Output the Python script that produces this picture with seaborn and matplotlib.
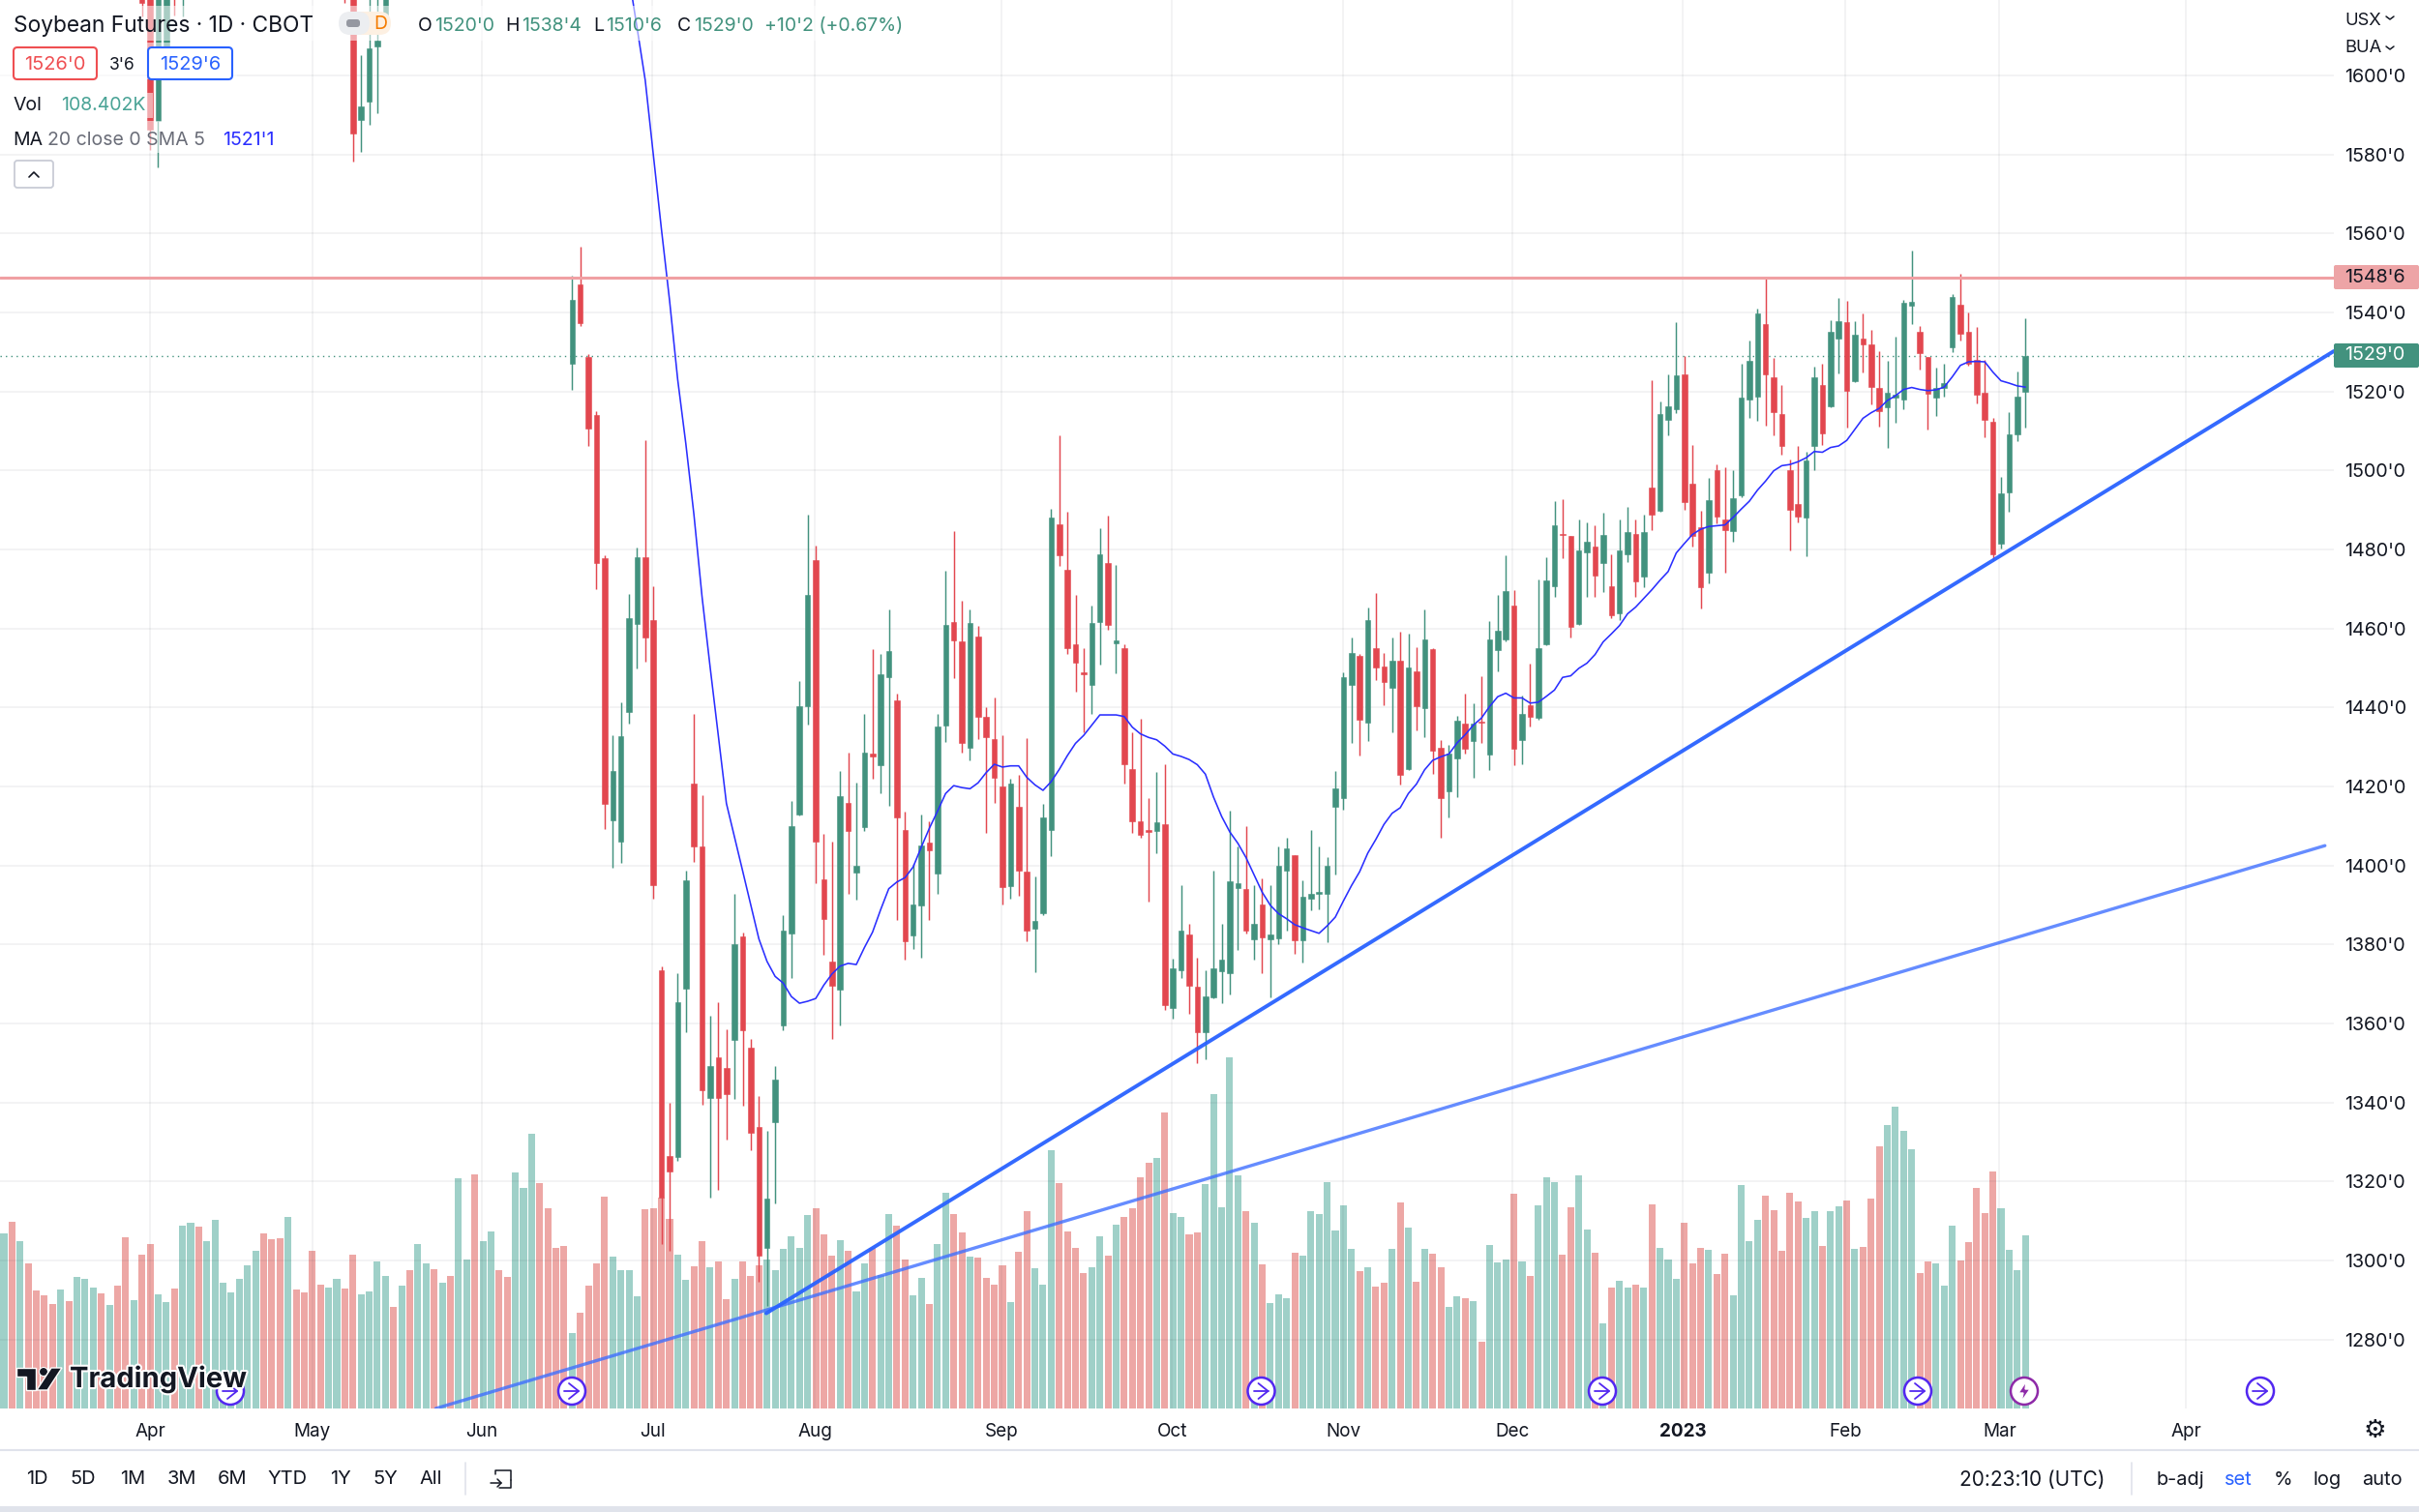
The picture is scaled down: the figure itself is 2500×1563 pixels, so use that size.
#soybean futures daily chart
import matplotlib.pyplot as plt
import matplotlib.patheffects as pe
from matplotlib.patches import Circle, FancyBboxPatch, Polygon, Rectangle
import numpy as np
import pandas as pd
import seaborn as sns

# one letter per session, g = up, r = down
sides = list(
    "grgrrrrgrg" "ggrgrrgrrg" "grggrggggg" "ggrrrgrrrr" "ggrrggggrg" "rggrgrggrg" "grrgggrrrr"
    "grrrrggggr" "rrrggrrgrr" "grrrgggggg" "rrrgrggrgg" "rrggrggrrg" "rrrrgrrggg" "rrrrggrgrr"
    "rrgrggrrgg" "gggrgrgggr" "gggggggrgr" "rgrgrgrrgg" "rgrgggrgrg" "ggrrggrgrg" "grgrgggrrr"
    "grrggggrrr" "rrggrggrgr" "rrggggrrgg" "grrrrrgggg"
)

# volume, thousands of contracts
volume = [
    109.6, 116.7, 104.6, 90.9, 73.9, 70.7, 65.2, 74.3, 67.2, 82.4, 81.0, 75.7, 72.3, 64.8, 76.9, 107.0, 67.8, 96.3,
    103.0, 71.5, 66.6, 75.1, 114.7, 116.3, 113.7, 104.8, 117.9, 78.7, 72.5, 81.0, 89.8, 98.5, 109.8, 106.2, 106.6,
    119.7, 74.5, 72.9, 98.9, 77.7, 75.9, 81.4, 75.1, 96.3, 71.5, 73.3, 91.9, 83.2, 63.4, 76.9, 86.4, 103.0, 90.9,
    87.2, 78.7, 82.8, 144.0, 93.5, 146.6, 104.8, 111.0, 86.8, 82.4, 147.6, 138.3, 171.8, 140.9, 125.2, 100.5, 101.6,
    47.4, 60.2, 76.9, 90.9, 132.4, 95.3, 86.4, 86.4, 70.1, 124.8, 125.2, 131.8, 118.7, 96.5, 80.4, 89.0, 104.8, 88.4,
    92.3, 68.2, 81.4, 92.1, 83.0, 89.6, 93.5, 86.8, 99.9, 107.8, 100.3, 121.1, 125.2, 109.0, 95.9, 105.2, 98.9, 73.3,
    91.1, 100.5, 83.4, 121.5, 114.5, 93.1, 70.9, 81.8, 65.2, 103.0, 134.9, 121.9, 110.2, 95.3, 94.5, 81.8, 77.3, 89.6,
    66.6,
    98.1, 123.4, 87.6, 77.3, 161.7, 141.3, 110.6, 100.7, 84.8, 88.4, 107.6, 95.5, 115.1, 120.1, 125.4, 144.6, 153.8,
    157.1, 185.3, 122.4, 119.7, 109.0, 110.2, 140.5, 196.9, 126.0, 219.9, 145.8, 123.8, 116.5, 90.5, 66.2, 71.5, 68.8,
    97.5, 95.9, 123.4, 121.5, 141.9, 111.2, 127.4, 99.9, 86.2, 88.4, 76.3, 78.7, 99.9, 128.8, 113.3, 79.1, 99.7, 96.7,
    88.2, 63.4, 70.3, 69.0, 67.4, 42.0, 102.6, 91.5, 93.1, 134.3, 91.9, 82.8, 127.0, 145.0, 141.7, 96.3, 126.0, 146.0,
    112.1, 97.5, 53.5, 75.5, 80.0, 75.5, 77.3, 75.5, 127.6, 100.5, 93.3, 81.4, 116.3, 90.9, 100.7, 99.5, 84.2, 96.9,
    70.7, 139.9, 104.8, 118.3, 133.3, 124.2, 98.9, 135.1, 129.6, 119.3, 123.4, 101.8, 123.8, 126.4, 130.2, 99.9, 101.4,
    131.4, 163.9, 177.5, 189.2, 173.8, 162.1, 85.0, 91.9, 90.9, 77.1, 114.3, 92.9, 104.4, 138.3, 122.6, 148.4, 125.2,
    99.3, 86.8, 108.4,
]

# candles that show on the chart, the rest are above the top edge
candle_idx = list(range(17, 23)) + list(range(42, 48)) + list(range(70, 250))

candle_high = [
    1640, 1640, 1640, 1640, 1640, 1640, 1640, 1640, 1605.1, 1640, 1640, 1640,
    1549.4, 1556.6, 1529.5, 1515.0, 1478.5, 1432.9, 1441.2, 1468.7, 1480.5, 1507.7, 1470.7, 1374.5, 1339.8, 1372.8,
    1398.7, 1438.4, 1417.8, 1362.0, 1365.4, 1358.5, 1392.9, 1383.1, 1356.1, 1341.7, 1332.9, 1349.1, 1387.4, 1416.3,
    1446.7, 1488.9, 1481.0, 1408.0, 1406.1, 1424.0, 1428.6, 1420.9, 1438.4, 1454.7, 1453.5, 1464.7, 1443.6, 1413.7,
    1400.3, 1412.8, 1411.1, 1438.4, 1474.7, 1484.6, 1466.9, 1464.7, 1460.6, 1440.0, 1442.4, 1432.9, 1421.9, 1423.0,
    1432.2, 1397.2, 1415.6, 1490.3, 1508.9, 1489.6, 1468.5, 1455.1, 1465.8, 1485.3, 1488.6, 1476.1, 1456.0, 1433.8,
    1437.1, 1417.1, 1423.7,
    1425.7, 1376.5, 1394.9, 1385.2, 1376.6, 1373.4, 1398.7, 1385.2, 1413.8, 1404.9, 1410.0, 1394.9, 1396.8, 1394.9,
    1404.9, 1407.1, 1402.7, 1396.3, 1409.0, 1404.9, 1402.0, 1424.0, 1449.0, 1457.7, 1453.5, 1465.4, 1469.0, 1453.9,
    1457.7, 1459.2, 1458.6, 1455.2, 1464.7, 1455.0, 1431.7, 1430.6, 1437.8, 1443.4, 1441.0, 1447.9, 1461.8, 1468.5,
    1478.5, 1469.8, 1443.0, 1451.1, 1472.5, 1478.1,
    1492.2, 1492.7, 1483.5, 1487.7, 1486.9, 1486.0, 1489.3, 1478.8, 1487.5, 1490.8, 1487.6, 1488.9, 1522.8, 1517.5,
    1524.3, 1537.5, 1528.9, 1506.4, 1489.9, 1498.2, 1501.6, 1500.7, 1500.0, 1527.0, 1533.0, 1540.9, 1548.6, 1528.4,
    1521.7, 1502.8, 1506.3, 1504.7, 1526.3, 1527.0, 1538.0, 1543.7, 1542.9, 1537.8, 1539.7, 1535.6, 1530.3, 1527.7,
    1533.8, 1543.2, 1555.6, 1536.5, 1528.8, 1526.0, 1527.0, 1544.6, 1549.8, 1539.9, 1536.2, 1528.0, 1513.2, 1498.3,
    1514.8, 1525.0, 1538.5,
]
candle_top = [
    1625, 1630, 1630, 1630, 1630, 1630, 1630, 1630, 1592.2, 1606.9, 1608.9, 1630,
    1543.2, 1547.2, 1528.8, 1514.0, 1477.8, 1424.0, 1432.6, 1462.5, 1478.1, 1478.1, 1462.1, 1373.5, 1326.4, 1365.4,
    1396.3, 1420.6, 1404.8, 1349.1, 1351.3, 1348.6, 1380.0, 1382.1, 1353.9, 1333.8, 1315.6, 1345.8, 1383.5, 1409.9,
    1440.3, 1468.5, 1477.4, 1396.5, 1375.6, 1417.6, 1415.7, 1399.9, 1428.6, 1428.3, 1448.4, 1454.2, 1441.9, 1409.0,
    1390.0, 1405.1, 1405.8, 1435.2, 1460.9, 1461.5, 1456.8, 1461.3, 1458.0, 1437.6, 1431.9, 1419.9, 1420.6, 1414.9,
    1398.4, 1386.0, 1412.1, 1488.1, 1486.4, 1474.8, 1456.0, 1448.9, 1461.3, 1478.8, 1476.6, 1457.0, 1455.1, 1424.3,
    1411.1, 1409.0, 1410.8,
    1410.4, 1374.0, 1383.4, 1382.6, 1369.3, 1366.8, 1374.0, 1376.1, 1396.0, 1395.6, 1393.9, 1385.2, 1390.0, 1382.6,
    1399.9, 1404.3, 1402.6, 1392.1, 1392.8, 1393.4, 1400.0, 1419.5, 1447.7, 1453.9, 1453.0, 1462.1, 1455.0, 1450.3,
    1451.9, 1451.9, 1450.0, 1449.1, 1457.2, 1454.7, 1429.9, 1428.2, 1436.6, 1435.8, 1435.9, 1436.5, 1457.2, 1459.4,
    1469.4, 1465.9, 1438.4, 1440.6, 1455.0, 1472.1,
    1486.1, 1483.9, 1483.4, 1479.8, 1482.0, 1480.8, 1483.7, 1470.8, 1479.7, 1484.5, 1483.8, 1484.5, 1495.6, 1514.3,
    1516.2, 1524.0, 1524.2, 1496.6, 1485.6, 1492.5, 1500.0, 1487.6, 1492.9, 1518.4, 1527.7, 1539.7, 1537.0, 1523.6,
    1514.3, 1500.0, 1491.5, 1502.4, 1523.6, 1521.7, 1535.2, 1537.9, 1537.5, 1534.3, 1533.5, 1531.8, 1521.0, 1519.6,
    1519.1, 1542.5, 1542.8, 1535.2, 1528.7, 1521.0, 1522.2, 1543.9, 1541.9, 1535.0, 1528.1, 1519.6, 1512.3, 1494.2,
    1509.2, 1518.7, 1529.0,
]
candle_bot = [
    1618.3, 1586.4, 1588.5, 1607.3, 1625, 1625, 1622, 1585.2, 1588.8, 1593.4, 1607.4, 1614.8,
    1527.1, 1537.4, 1510.6, 1476.6, 1415.6, 1411.5, 1406.0, 1438.9, 1461.1, 1457.8, 1395.1, 1315.8, 1322.5, 1326.2,
    1368.8, 1404.9, 1343.1, 1341.0, 1341.0, 1342.0, 1355.8, 1358.2, 1332.3, 1301.2, 1303.2, 1335.0, 1359.6, 1382.8,
    1412.8, 1440.3, 1406.0, 1386.4, 1369.5, 1368.5, 1408.7, 1398.2, 1409.7, 1427.6, 1425.4, 1447.7, 1412.1, 1380.7,
    1382.3, 1389.8, 1403.9, 1397.9, 1435.5, 1457.0, 1431.0, 1429.8, 1437.6, 1432.4, 1422.3, 1394.6, 1394.8, 1398.7,
    1383.5, 1384.0, 1387.9, 1408.9, 1478.6, 1454.9, 1451.3, 1448.4, 1445.8, 1461.6, 1460.9, 1456.3, 1425.5, 1411.1,
    1407.8, 1408.5, 1408.7,
    1364.6, 1363.8, 1373.4, 1369.5, 1357.8, 1357.8, 1366.7, 1373.1, 1372.7, 1394.2, 1383.4, 1381.3, 1381.8, 1381.3,
    1381.5, 1398.7, 1381.1, 1381.1, 1391.6, 1392.7, 1392.8, 1414.9, 1417.0, 1445.8, 1436.9, 1436.2, 1450.2, 1446.4,
    1444.9, 1422.9, 1424.3, 1440.4, 1439.8, 1429.1, 1417.0, 1418.7, 1427.0, 1429.5, 1431.4, 1436.2, 1428.1, 1454.6,
    1457.1, 1429.5, 1431.8, 1437.6, 1437.4, 1455.9,
    1470.8, 1483.7, 1460.4, 1461.1, 1479.3, 1473.3, 1476.6, 1463.3, 1463.8, 1478.8, 1471.9, 1473.2, 1488.8, 1489.9,
    1512.8, 1515.4, 1492.1, 1483.3, 1470.5, 1474.1, 1488.3, 1484.8, 1484.7, 1493.8, 1518.0, 1518.7, 1524.3, 1514.7,
    1506.2, 1490.0, 1488.4, 1488.0, 1506.1, 1509.3, 1516.2, 1533.4, 1520.1, 1522.6, 1531.8, 1521.1, 1515.0, 1516.0,
    1518.4, 1518.0, 1541.8, 1529.8, 1519.5, 1518.4, 1520.9, 1531.1, 1534.7, 1527.1, 1519.1, 1512.7, 1478.8, 1481.4,
    1494.5, 1509.2, 1520.0,
]
candle_low = [
    1615, 1581.1, 1576.8, 1607, 1615.2, 1615, 1618.3, 1578.1, 1580.7, 1587.6, 1590.4, 1612,
    1520.5, 1536.5, 1506.3, 1470.0, 1409.2, 1399.3, 1400.6, 1436.0, 1449.9, 1451.5, 1391.5, 1304.1, 1302.4, 1325.2,
    1357.8, 1400.8, 1339.3, 1315.8, 1317.8, 1330.5, 1340.8, 1339.1, 1327.8, 1294.6, 1288.5, 1314.4, 1358.2, 1371.6,
    1412.6, 1435.7, 1395.5, 1377.3, 1356.0, 1359.4, 1392.7, 1391.4, 1408.7, 1421.9, 1418.3, 1415.2, 1386.2, 1376.1,
    1378.8, 1376.6, 1386.2, 1392.9, 1431.2, 1447.4, 1428.5, 1426.6, 1432.1, 1408.2, 1415.9, 1390.0, 1391.5, 1392.2,
    1380.7, 1373.0, 1387.4, 1402.3, 1475.9, 1453.5, 1443.9, 1433.8, 1438.4, 1450.8, 1459.6, 1448.7, 1420.6, 1408.2,
    1407.0, 1390.8, 1403.0,
    1363.3, 1361.2, 1371.6, 1362.5, 1350.0, 1350.8, 1366.4, 1365.2, 1367.4, 1378.7, 1382.7, 1376.2, 1372.7, 1366.7,
    1380.0, 1383.6, 1377.6, 1375.5, 1388.6, 1388.8, 1380.6, 1397.7, 1414.2, 1431.0, 1427.9, 1431.6, 1447.0, 1440.6,
    1433.6, 1420.5, 1424.2, 1434.2, 1432.5, 1423.2, 1406.9, 1412.2, 1417.2, 1428.3, 1422.3, 1431.0, 1424.1, 1449.1,
    1456.6, 1425.3, 1425.6, 1435.2, 1437.0, 1455.8,
    1468.0, 1477.8, 1457.8, 1460.8, 1468.0, 1468.0, 1469.3, 1462.6, 1462.2, 1476.9, 1468.0, 1470.5, 1484.9, 1489.5,
    1508.9, 1514.4, 1490.0, 1480.7, 1465.1, 1471.4, 1486.7, 1474.1, 1482.0, 1493.3, 1513.4, 1512.5, 1511.4, 1508.9,
    1504.1, 1479.8, 1486.9, 1478.3, 1500.1, 1506.4, 1516.1, 1524.5, 1510.8, 1522.4, 1524.9, 1516.8, 1511.0, 1505.8,
    1512.1, 1515.6, 1537.1, 1525.5, 1510.3, 1513.7, 1518.8, 1530.0, 1533.0, 1526.4, 1517.0, 1508.3, 1477.4, 1480.3,
    1489.5, 1507.4, 1510.75,
]

# MA 20, sessions 77 to 249
ma_idx = list(range(77, 250))
ma_values = [
    1625, 1612, 1598.8, 1580, 1561, 1543, 1523, 1506.8, 1488.8, 1468, 1450.1, 1432.9, 1415.7, 1407.2, 1398.6, 1390.0,
    1381.4, 1375.7, 1371.9, 1370.2, 1366.8, 1365.1, 1365.6, 1366.3, 1369.7, 1372.5, 1374.5, 1375.2, 1374.9, 1379.2,
    1383.1, 1388.8, 1394.1, 1395.8, 1396.9, 1399.6, 1404.6, 1409.4, 1413.7, 1418.2, 1420.2, 1419.7, 1419.4, 1420.9,
    1423.5, 1425.6, 1424.9, 1425.2, 1425.2, 1422.3, 1420.4, 1419.0, 1421.2, 1424.3, 1427.8, 1430.9, 1432.9, 1435.5,
    1438.1, 1438.1, 1438.1, 1437.7, 1435.0, 1433.3, 1432.4, 1431.8,
    1430.2, 1428.2, 1427.6, 1426.8, 1425.5, 1423.1, 1417.3, 1412.4, 1408.5, 1405.6, 1402.0, 1397.6, 1393.2, 1389.9,
    1387.8, 1386.5, 1385.0, 1384.2, 1383.5, 1382.8, 1384.7, 1386.9, 1391.0, 1394.9, 1398.4, 1403.1, 1406.6, 1410.4,
    1413.2, 1414.6, 1418.2, 1420.6, 1424.2, 1426.6, 1427.5, 1428.2, 1431.0, 1433.1, 1435.5, 1437.3, 1440.2, 1442.7,
    1443.6, 1442.4, 1442.4, 1441.1, 1441.3, 1442.8, 1444.4, 1447.6, 1448.0, 1449.9, 1451.2, 1453.4, 1456.6, 1458.6,
    1460.7, 1463.7, 1465.4, 1467.6, 1469.8, 1472.2, 1474.4, 1479.1, 1481.5, 1483.8, 1485.1, 1485.8, 1486.0, 1486.2,
    1488.1, 1490.2, 1492.2, 1495.0, 1497.3, 1499.9, 1501.2, 1501.5, 1502.2, 1503.2, 1504.8, 1504.6, 1505.8, 1506.2,
    1507.6, 1510.4, 1513.2, 1514.6, 1515.7, 1517.7, 1518.9, 1520.5, 1521.0, 1520.5, 1520.2, 1520.4, 1521.1, 1523.7,
    1526.6, 1527.5, 1527.6, 1527.5, 1524.9, 1522.7, 1522.1, 1521.4, 1521.1,
]

# drawn trend lines, (session, price) at each end
steep_x = [93.9, 287.0]
steep_y = [1286.6, 1530.2]
shallow_x = [53.2, 285.9]
shallow_y = [1262.5, 1405.0]

resistance = 1548.75
last_close = 1529.0

price_ticks = [1280, 1300, 1320, 1340, 1360, 1380, 1400, 1420, 1440, 1460, 1480, 1500, 1520, 1540, 1560, 1580, 1600]
month_ticks = [18, 38, 58.9, 79.9, 99.9, 122.9, 143.9, 165, 185.8, 206.8, 226.8, 245.8, 268.8]
month_labels = ["Apr", "May", "Jun", "Jul", "Aug", "Sep", "Oct", "Nov", "Dec", "2023", "Feb", "Mar", "Apr"]

GREEN = "#42927e"
RED = "#e2474f"
VOL_GREEN = "#9fd0c8"
VOL_RED = "#eda7a5"
BLUE = "#2962ff"
INK = "#131722"
RING = "#5227f0"

sns.set_theme(style="white")
plt.rcParams["font.family"] = ["Inter", "DejaVu Sans"]

W, H = 2500, 1563
fig = plt.figure(figsize=(25, 15.63), dpi=100, facecolor="white")
rect = [0, (H - 1456) / H, 2412 / W, 1456 / H]
xlim = (-0.477, 287.0)

# volume sits on its own axes behind the prices
vol_ax = fig.add_axes(rect, zorder=1)
vol_df = pd.DataFrame({"i": range(len(volume)), "vol": volume, "side": sides})
sns.barplot(data=vol_df, x="i", y="vol", hue="side", palette={"g": VOL_GREEN, "r": VOL_RED}, native_scale=True,
            dodge=False, width=0.84, saturation=1, legend=False, errorbar=None, linewidth=0, ax=vol_ax)
vol_ax.set_xlim(*xlim)
vol_ax.set_ylim(0, 881.8)
vol_ax.axis("off")

ax = fig.add_axes(rect, zorder=2)
ax.patch.set_visible(False)

candles = pd.DataFrame({"i": candle_idx, "high": candle_high, "top": candle_top, "bot": candle_bot, "low": candle_low})
candles["color"] = [GREEN if sides[i] == "g" else RED for i in candle_idx]
ax.vlines(candles["i"], candles["low"], candles["high"], colors=candles["color"], lw=1.05, zorder=3)
ax.bar(candles["i"], candles["top"] - candles["bot"], bottom=candles["bot"], width=0.66, color=candles["color"],
       edgecolor=candles["color"], linewidth=0.4, zorder=4)

sns.lineplot(x=ma_idx, y=ma_values, color="#2a2eff", lw=1.15, sort=False, ax=ax, zorder=5)
sns.lineplot(x=shallow_x, y=shallow_y, color="#3f6fff", alpha=0.8, lw=2.4, sort=False, ax=ax, zorder=5)
sns.lineplot(x=steep_x, y=steep_y, color=BLUE, alpha=0.95, lw=2.8, sort=False, ax=ax, zorder=5)

ax.axhline(resistance, color="#f0a0a3", lw=2.2, zorder=6)
ax.axhline(last_close, color=GREEN, lw=1.0, ls=(0, (1, 3)), zorder=2)

ax.set_xlim(*xlim)
ax.set_ylim(1262.5, 1619.1)
ax.set_xlabel("")
ax.set_ylabel("")
for s in ax.spines.values():
    s.set_visible(False)
ax.yaxis.tick_right()
ax.set_yticks(price_ticks)
ax.set_yticklabels([f"{p}'0" for p in price_ticks])
ax.set_xticks(month_ticks)
ax.set_xticklabels(month_labels)
ax.tick_params(axis="y", length=0, pad=8, labelsize=14.2, labelcolor=INK)
ax.tick_params(axis="x", length=0, pad=11, labelsize=13.6, labelcolor=INK)
for lab in ax.get_xticklabels():
    if lab.get_text() == "2023":
        lab.set_fontweight("bold")
ax.grid(True, color="#2a2e39", alpha=0.07, lw=1.1)
ax.set_axisbelow(True)

# everything else on the screenshot, placed in pixels
ui = fig.add_axes([0, 0, 1, 1], zorder=3)
ui.set_xlim(0, W)
ui.set_ylim(H, 0)
ui.axis("off")
ui.patch.set_visible(False)

# faded strip behind the legend rows
for x0, y0, w, h in [(0, 6, 935, 36), (0, 44, 245, 38), (0, 96, 158, 26), (0, 125, 295, 33)]:
    ui.add_patch(Rectangle((x0, y0), w, h, fc="white", ec="none", alpha=0.55))


def label(x, y, s, size=13.6, color=INK, ha="left", **kw):
    return ui.text(x, y, s, fontsize=size, color=color, ha=ha, va="center", **kw)


label(14, 26.5, "Soybean Futures · 1D · CBOT", size=16.4)
ui.add_patch(FancyBboxPatch((352, 12), 52, 24, boxstyle="round,pad=0,rounding_size=12", fc="#fdf0e2", ec="none"))
ui.add_patch(FancyBboxPatch((350, 12), 32, 24, boxstyle="round,pad=0,rounding_size=12", fc="#eceef1", ec="none"))
ui.add_patch(FancyBboxPatch((358, 20), 14, 8, boxstyle="round,pad=0,rounding_size=3", fc="#9598a1", ec="none"))
label(393, 25, "D", size=14, color="#f57c00", ha="center")

for x, s, c in [(432, "O", INK), (449, "1520'0", GREEN), (522, "H", INK), (539, "1538'4", GREEN), (613, "L", INK),
                (626, "1510'6", GREEN), (700, "C", INK), (717, "1529'0", GREEN), (790, "+10'2 (+0.67%)", GREEN)]:
    label(x, 27, s, size=14, color=c)

ui.add_patch(FancyBboxPatch((14, 49), 86, 33, boxstyle="round,pad=0,rounding_size=4", fc="white", ec="#ef4f52", lw=1.5))
label(57, 67, "1526'0", size=14.4, color="#ef4f52", ha="center")
label(126, 67, "3'6", size=12.5, ha="center")
ui.add_patch(FancyBboxPatch((153, 49), 87, 33, boxstyle="round,pad=0,rounding_size=4", fc="white", ec=BLUE, lw=1.5))
label(197, 67, "1529'6", size=14.4, color=BLUE, ha="center")

label(13, 109.5, "Vol", size=14)
label(63, 109.5, "108.402K", size=14, color="#4aa396")
label(13, 145.5, "MA", size=14)
label(49, 145.5, "20 close 0 SMA 5", size=14, color="#6a6d78")
label(230, 145.5, "1521'1", size=14, color="#2a2eff")
ui.add_patch(FancyBboxPatch((15, 166), 40, 28, boxstyle="round,pad=0,rounding_size=3", fc="white", ec="#c9ccd6", lw=1.3))
ui.plot([30, 35, 40], [183, 178, 183], color=INK, lw=1.2)

label(2423, 21, "USX", size=13.2)
label(2423, 50, "BUA", size=13.2)
for y in (17, 48):
    ui.plot([2466, 2470, 2474], [y, y + 3, y], color=INK, lw=1.1)

ui.add_patch(FancyBboxPatch((2412, 274), 88, 25, boxstyle="round,pad=0,rounding_size=2", fc="#eda4a6", ec="none"))
label(2423, 286.5, "1548'6", size=14.2)
ui.add_patch(FancyBboxPatch((2412, 355), 88, 25, boxstyle="round,pad=0,rounding_size=2", fc=GREEN, ec="none"))
label(2423, 367.5, "1529'0", size=14.2, color="white")

# event markers along the bottom
for x in [238, 591, 1303.5, 1656, 1982, 2336]:
    ui.add_patch(Circle((x, 1438), 14, fc="white", ec=RING, lw=1.8))
    ui.plot([x - 8, x + 7], [1438, 1438], color=RING, lw=1.3)
    ui.plot([x - 3, x + 7, x - 3], [1430, 1438, 1446], color=RING, lw=1.3)
ui.add_patch(Circle((2092, 1438), 14, fc="white", ec="#8e2aa8", lw=1.8))
ui.add_patch(Polygon([(2094, 1428), (2086, 1440), (2091, 1440), (2089, 1449), (2098, 1436), (2093, 1436)], fc="#8e2aa8"))

# TradingView mark
outline = [pe.withStroke(linewidth=3, foreground="white")]
logo = label(72, 1426, "TradingView", size=21, fontweight="bold", path_effects=outline)
ui.add_patch(Polygon([(17, 1414), (37, 1414), (37, 1437), (27, 1437), (27, 1423), (17, 1423)], fc=INK, ec="white", lw=1))
ui.add_patch(Circle((45, 1418), 4.5, fc=INK, ec="white", lw=0.8))
ui.add_patch(Polygon([(38, 1437), (49, 1437), (64, 1414), (53, 1414)], fc=INK, ec="white", lw=1))

label(2454, 1479, "⚙", size=19, ha="center", family="DejaVu Sans")

# footer
ui.plot([0, W], [1499, 1499], color="#e0e3eb", lw=1.5)
ui.add_patch(Rectangle((0, 1557), W, 6, fc="#e0e3eb", ec="none"))
for x, s in [(38, "1D"), (86, "5D"), (137, "1M"), (188, "3M"), (240, "6M"), (297, "YTD"), (352, "1Y"), (398, "5Y"), (445, "All")]:
    label(x, 1529, s, size=14.4, ha="center")
ui.plot([481, 481], [1512, 1545], color="#e0e3eb", lw=1.2)
ui.plot([528, 528, 512, 512], [1530, 1520, 1520, 1524], color=INK, lw=1.1)
ui.plot([516, 528, 528], [1538, 1538, 1530], color=INK, lw=1.1)
ui.plot([507, 518], [1533, 1533], color=INK, lw=1.1)
ui.plot([514, 518, 514], [1529, 1533, 1537], color=INK, lw=1.1)
label(2025, 1530, "20:23:10 (UTC)", size=15)
ui.plot([2203, 2203], [1512, 1545], color="#e0e3eb", lw=1.2)
for x, s, c in [(2253, "b-adj", INK), (2313, "set", BLUE), (2360, "%", INK), (2405, "log", INK), (2462, "auto", INK)]:
    label(x, 1530, s, size=14.4, color=c, ha="center")

fig.savefig("out.png", dpi=100)
